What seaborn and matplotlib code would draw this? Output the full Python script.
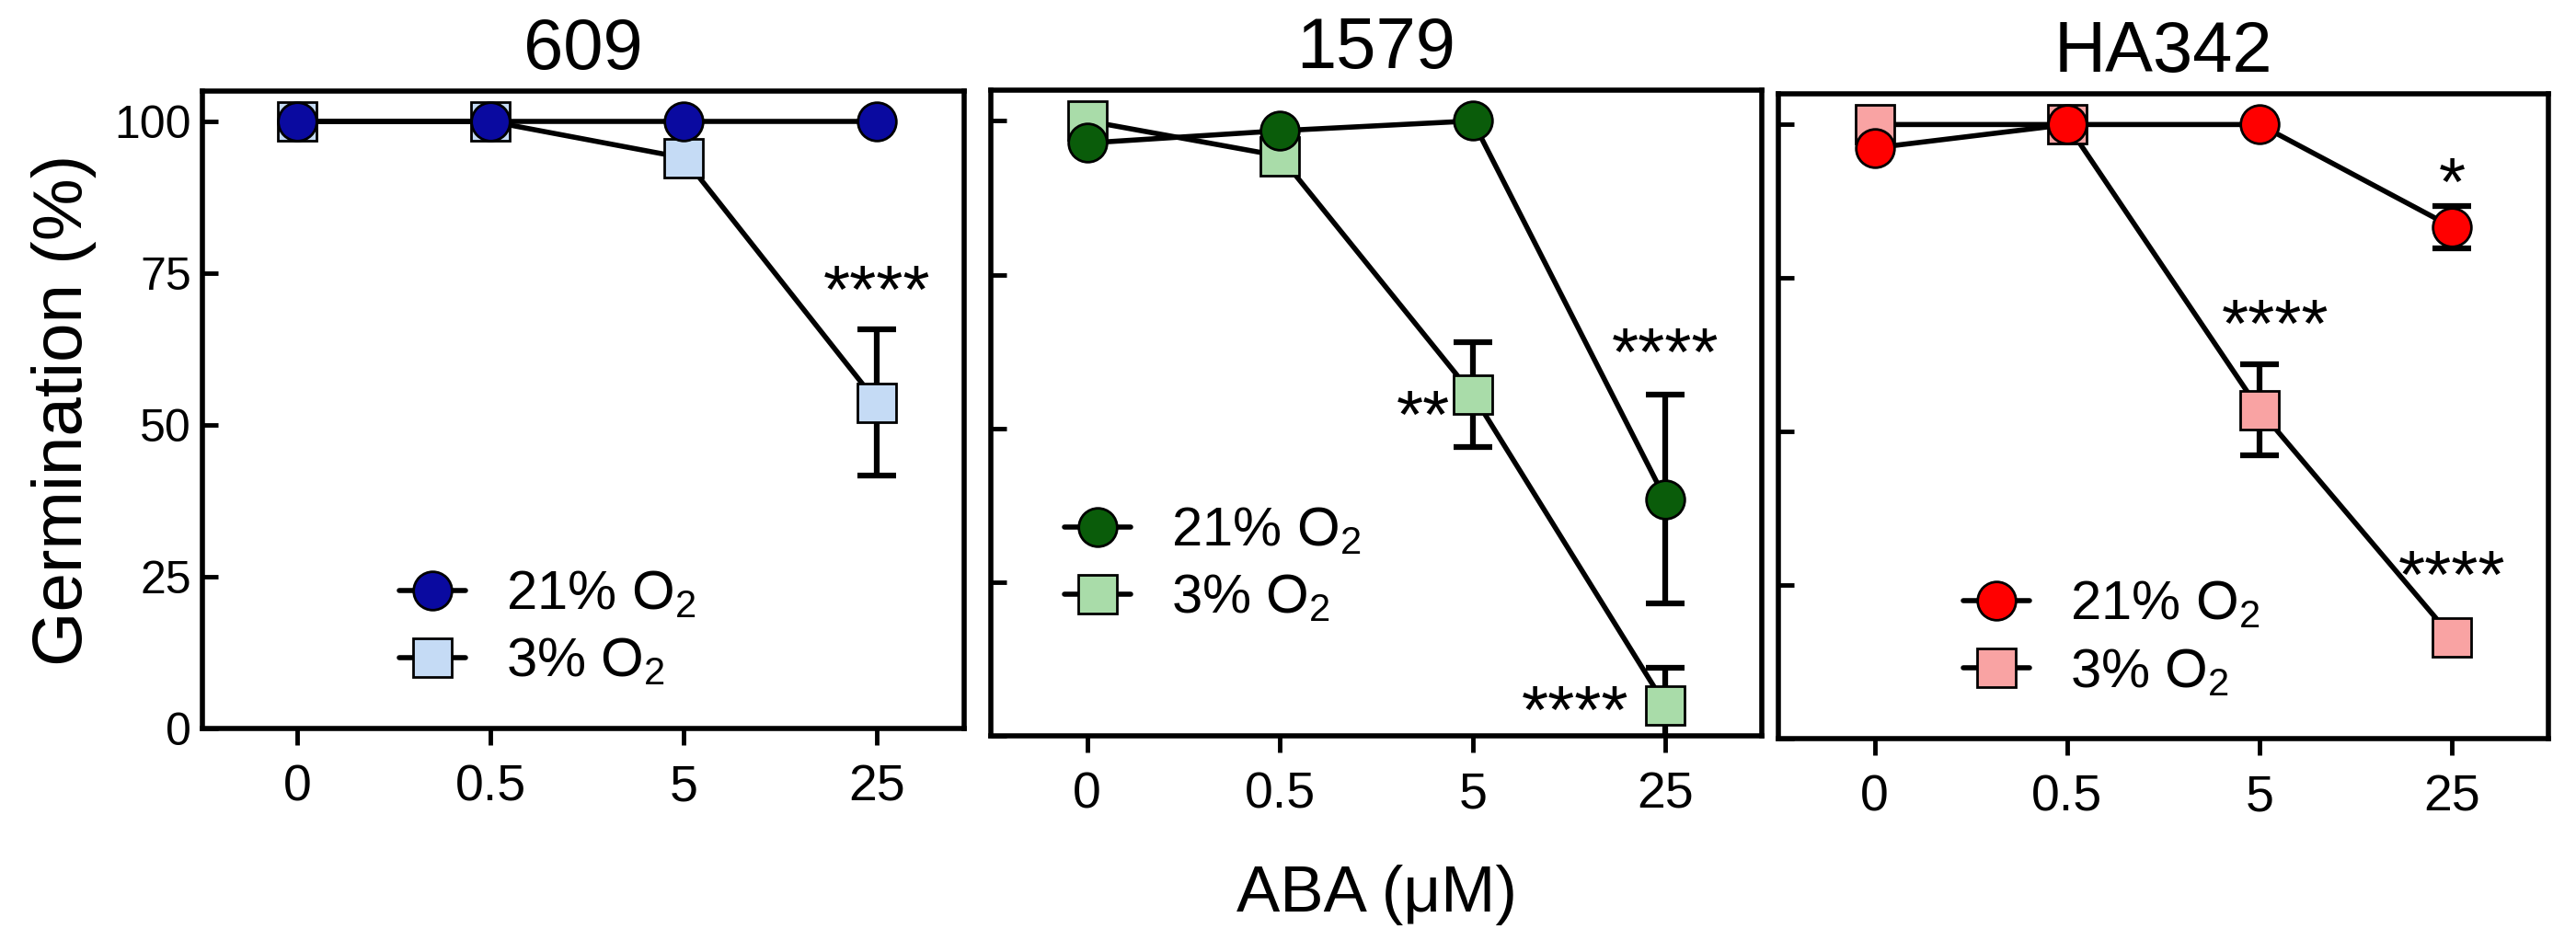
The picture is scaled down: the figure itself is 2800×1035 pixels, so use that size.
import numpy as np
import pandas as pd
import matplotlib
matplotlib.use('Agg')
import matplotlib.pyplot as plt
import seaborn as sns

aba_labels = ['0', '0.5', '5', '25']
line_names = ['609', '1579', 'HA342']

# germination (%) means and error bars, 21% O2 and 3% O2
g609_21 = [100, 100, 100, 100]
g609_21_err = [0, 0, 0, 0]
g609_3 = [100, 100, 94, 53.7]
g609_3_err = [0, 0, 0, 12]

g1579_21 = [96.4, 98.4, 100, 38.5]
g1579_21_err = [0, 0, 0, 17]
g1579_3 = [100, 94.3, 55.5, 5]
g1579_3_err = [0, 0, 8.5, 6]

gha_21 = [96.2, 100, 100, 83.3]
gha_21_err = [0, 0, 0, 3.4]
gha_3 = [100, 100, 53.5, 16.5]
gha_3_err = [0, 0, 7.4, 0]

# significance marks: (ABA index, y of the star centre, text, alignment)
stars_609 = [(3, 75, '****', 'center')]
stars_1579 = [(1.88, 54.8, '**', 'right'), (3, 65, '****', 'center'),
              (2.81, 6.9, '****', 'right')]
stars_ha = [(3, 93.3, '*', 'center'), (2.08, 70.3, '****', 'center'),
            (3, 29.4, '****', 'center')]

colors_21 = ['#0a0aa0', '#0a5c0a', '#ff0000']
colors_3 = ['#c5dbf5', '#a9dca9', '#f9a3a3']

means_21 = [g609_21, g1579_21, gha_21]
errs_21 = [g609_21_err, g1579_21_err, gha_21_err]
means_3 = [g609_3, g1579_3, gha_3]
errs_3 = [g609_3_err, g1579_3_err, gha_3_err]
stars = [stars_609, stars_1579, stars_ha]

sns.set_style('ticks', {'axes.edgecolor': 'black', 'xtick.color': 'black',
                        'ytick.color': 'black', 'text.color': 'black',
                        'axes.labelcolor': 'black'})
plt.rcParams['font.family'] = ['Liberation Sans', 'DejaVu Sans']
plt.rcParams['mathtext.fontset'] = 'custom'
plt.rcParams['mathtext.rm'] = 'Liberation Sans'
plt.rcParams['mathtext.default'] = 'regular'

fig = plt.figure(figsize=(28, 10.35), dpi=100)
rects = [
    [220 / 2800, 243 / 1035, 828 / 2800, 693 / 1035],
    [1077 / 2800, 235 / 1035, 838 / 2800, 702 / 1035],
    [1933 / 2800, 232 / 1035, 837 / 2800, 701 / 1035],
]
xlims = [(-0.49, 3.45), (-0.5, 3.5), (-0.5, 3.5)]
leg_anchor = [(0.2585, 0.156), (0.0955, 0.264), (0.240, 0.154)]

star_size = 54
x = np.arange(len(aba_labels))

for i in range(3):
    ax = fig.add_axes(rects[i])

    for m, e in [(means_21[i], errs_21[i]), (means_3[i], errs_3[i])]:
        ax.errorbar(x, m, yerr=e, fmt='none', ecolor='k', elinewidth=4.5,
                    capsize=15, capthick=4.5, zorder=2)

    sns.lineplot(x=x, y=means_21[i], ax=ax, color='k', linewidth=4,
                 marker='o', markersize=30, markerfacecolor=colors_21[i],
                 markeredgecolor='k', markeredgewidth=2,
                 label='21% O$_2$', errorbar=None, zorder=4)
    sns.lineplot(x=x, y=means_3[i], ax=ax, color='k', linewidth=4,
                 marker='s', markersize=30, markerfacecolor=colors_3[i],
                 markeredgecolor='k', markeredgewidth=2,
                 label='3% O$_2$', errorbar=None, zorder=3)

    for sx, sy, txt, ha in stars[i]:
        ax.annotate(txt, xy=(sx, sy), xytext=(0, -0.57 * star_size),
                    textcoords='offset points', ha=ha, va='baseline',
                    fontsize=star_size)

    ax.set_xlim(*xlims[i])
    ax.set_ylim(0, 105)
    ax.set_xticks(x)
    ax.set_xticklabels(aba_labels)
    ax.set_yticks([0, 25, 50, 75, 100])
    ax.set_xlabel('')
    ax.set_ylabel('')

    for s in ax.spines.values():
        s.set_visible(True)
        s.set_linewidth(4)
        s.set_color('black')
    ax.tick_params(axis='y', direction='in', length=12.5, width=3.5,
                   pad=8.6, labelsize=36, left=True, right=False)
    ax.tick_params(axis='x', direction='out', length=13, width=3.5,
                   pad=15, labelsize=40, bottom=True, top=False)
    if i > 0:
        ax.tick_params(axis='y', labelleft=False)

    ax.set_title(line_names[i], fontsize=56, pad=17)

    handles, labels = ax.get_legend_handles_labels()
    ax.legend(handles, labels, loc='center left', bbox_to_anchor=leg_anchor[i],
              frameon=False, fontsize=43, handlelength=1.2, handletextpad=0.75,
              labelspacing=0.3, borderpad=0, borderaxespad=0, numpoints=1)

    if i == 0:
        ax.set_ylabel('Germination (%)', fontsize=55)
        ax.yaxis.set_label_coords(-0.139, 0.5)
    if i == 1:
        ax.set_xlabel('ABA (\u03bcM)', fontsize=51)
        ax.xaxis.set_label_coords(0.5, -0.199)

fig.savefig('out.png', dpi=100)
